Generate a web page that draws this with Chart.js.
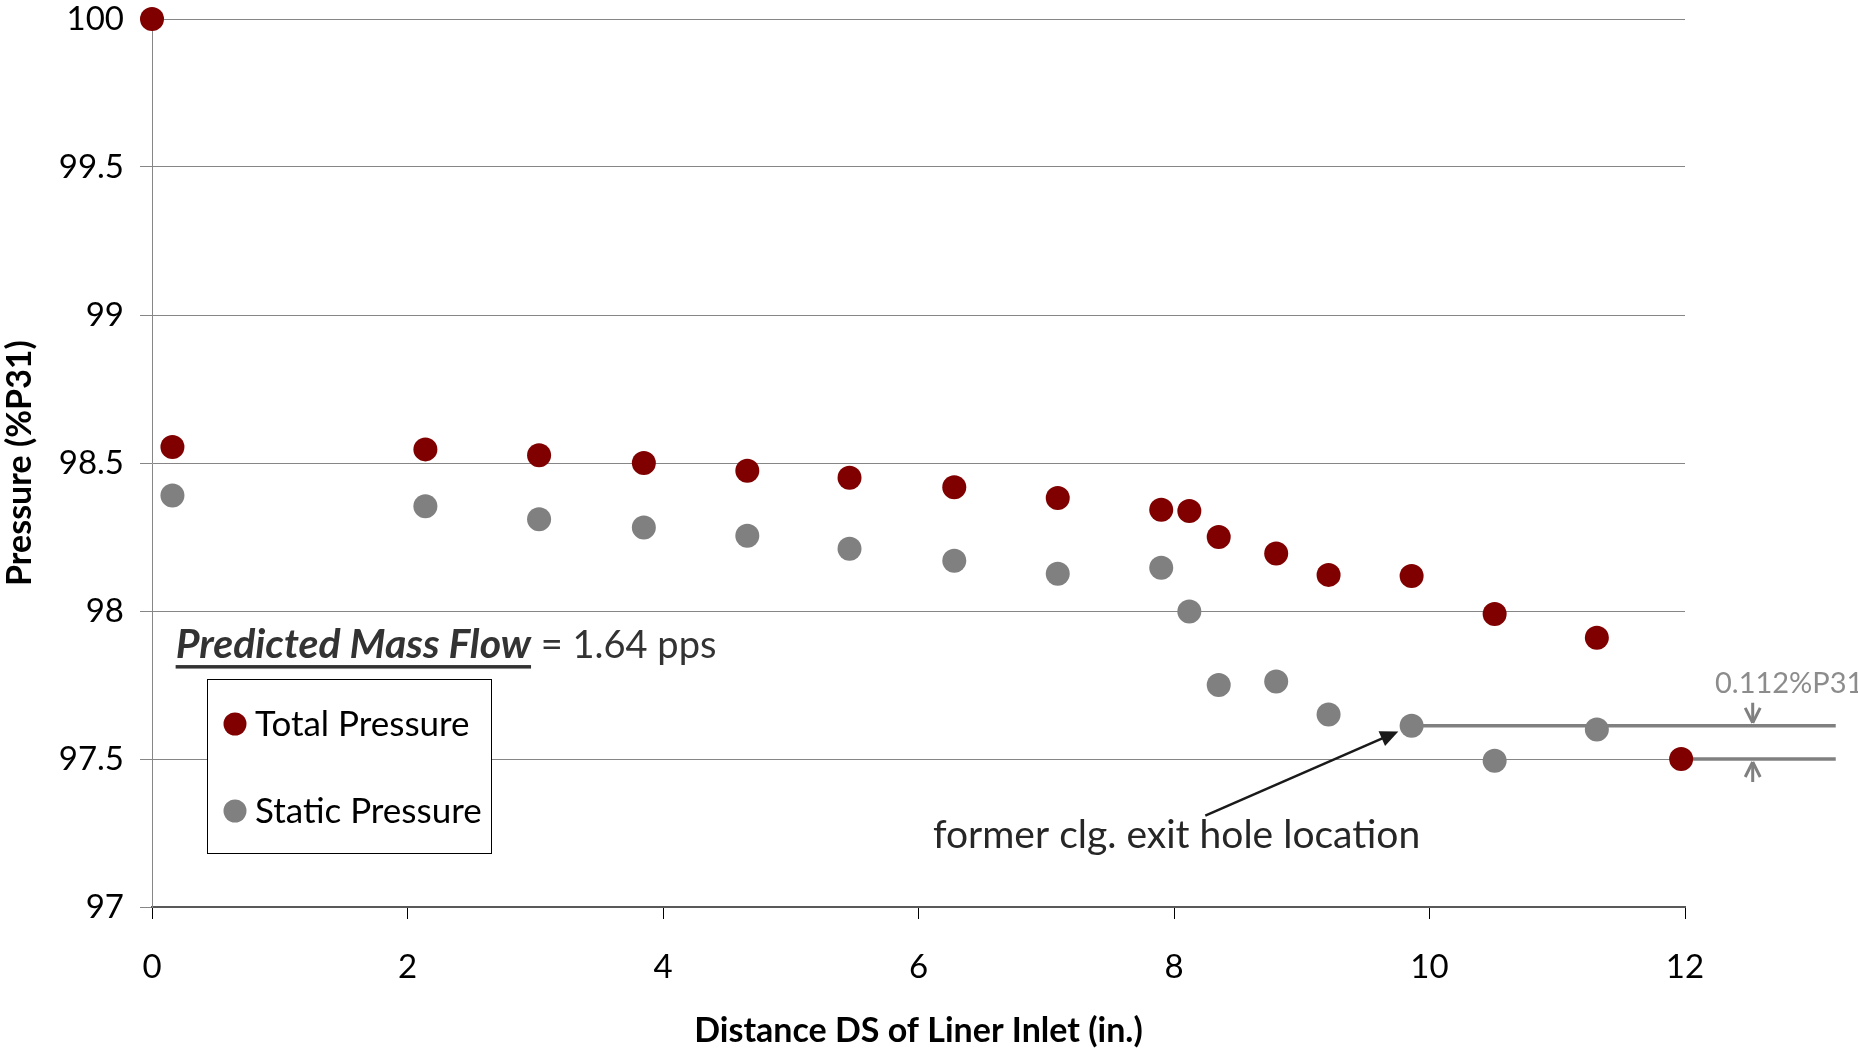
<!DOCTYPE html>
<html>
<head>
<meta charset="utf-8">
<script src="https://cdn.jsdelivr.net/npm/chart.js@4.4.1/dist/chart.umd.min.js"></script>
<style>
  html, body { margin: 0; padding: 0; background: #fff; }
  #myChart { display: block; }
</style>
</head>
<body>
<canvas id="myChart" width="1858" height="1051"></canvas>
<script>
// distance downstream of liner inlet (in.)
const totalX = [0, 0.16, 2.14, 3.03, 3.85, 4.66, 5.46, 6.28, 7.09, 7.90, 8.12, 8.35, 8.80, 9.21, 9.86, 10.51, 11.31, 11.97];
const totalP = [100, 98.554, 98.546, 98.526, 98.50, 98.474, 98.45, 98.418, 98.382, 98.342, 98.338, 98.25, 98.194, 98.122, 98.118, 97.99, 97.91, 97.50];

const staticX = [0.16, 2.14, 3.03, 3.85, 4.66, 5.46, 6.28, 7.09, 7.90, 8.12, 8.35, 8.80, 9.21, 9.86, 10.51, 11.31];
const staticP = [98.39, 98.354, 98.31, 98.282, 98.254, 98.21, 98.17, 98.126, 98.146, 97.998, 97.75, 97.762, 97.65, 97.612, 97.494, 97.60];

const seriesNames = ["Total Pressure", "Static Pressure"];
const seriesColors = ["#800000", "#808080"];

const xTitle = "Distance DS of Liner Inlet (in.)";
const yTitle = "Pressure (%P31)";

// annotation anchors, in data units
const gapUpper = { x: 9.86, y: 97.612 };
const gapLower = { x: 11.97, y: 97.50 };
const gapEndX = 13.18;
const gapArrowX = 12.53;
const gapLabel = "0.112%P31";
const holeArrow = { x1: 8.245, y1: 97.309, x2: 9.756, y2: 97.593 };
const holeLabel = { x: 8.02, y: 97.241, text: "former clg. exit hole location" };
const flowLabel = { x: 0.185, y: 97.841, bold: "Predicted Mass Flow", rest: " = 1.64 pps" };

const FONT = "Lato, 'Open Sans', sans-serif";

function toPoints(xs, ys) {
    return xs.map((x, i) => ({ x: x, y: ys[i] }));
}

function arrowHead(ctx, x, y, angle, size, spread, filled) {
    ctx.save();
    ctx.translate(x, y);
    ctx.rotate(angle);
    ctx.beginPath();
    ctx.moveTo(0, 0);
    ctx.lineTo(-size, -size * spread);
    if (filled) {
        ctx.lineTo(-size, size * spread);
        ctx.closePath();
        ctx.fill();
    } else {
        ctx.moveTo(0, 0);
        ctx.lineTo(-size, size * spread);
        ctx.stroke();
    }
    ctx.restore();
}

const overlay = {
    id: 'overlay',
    beforeDatasetsDraw(chart) {
        const ctx = chart.ctx;
        const xs = chart.scales.x, ys = chart.scales.y;
        ctx.save();
        ctx.strokeStyle = "#808080";
        ctx.lineWidth = 3.5;
        [gapUpper, gapLower].forEach(p => {
            ctx.beginPath();
            ctx.moveTo(xs.getPixelForValue(p.x), ys.getPixelForValue(p.y));
            ctx.lineTo(xs.getPixelForValue(gapEndX), ys.getPixelForValue(p.y));
            ctx.stroke();
        });
        ctx.restore();
    },
    afterDatasetsDraw(chart) {
        const ctx = chart.ctx;
        const xs = chart.scales.x, ys = chart.scales.y;
        const area = chart.chartArea;
        ctx.save();

        // gap arrows + label
        const ax = xs.getPixelForValue(gapArrowX);
        const yUp = ys.getPixelForValue(gapUpper.y) - 3;
        const yLo = ys.getPixelForValue(gapLower.y) + 3;
        ctx.strokeStyle = "#808080";
        ctx.lineWidth = 3;
        ctx.beginPath();
        ctx.moveTo(ax, yUp - 20); ctx.lineTo(ax, yUp);
        ctx.moveTo(ax, yLo + 20); ctx.lineTo(ax, yLo);
        ctx.stroke();
        arrowHead(ctx, ax, yUp, Math.PI / 2, 15, 0.5, false);
        arrowHead(ctx, ax, yLo, -Math.PI / 2, 15, 0.5, false);
        ctx.fillStyle = "#8c8c8c";
        ctx.font = "29px " + FONT;
        ctx.textAlign = "left";
        ctx.textBaseline = "alphabetic";
        ctx.fillText(gapLabel, 1715, yUp - 30);

        // exit hole arrow
        const x1 = xs.getPixelForValue(holeArrow.x1), y1 = ys.getPixelForValue(holeArrow.y1);
        const x2 = xs.getPixelForValue(holeArrow.x2), y2 = ys.getPixelForValue(holeArrow.y2);
        const ang = Math.atan2(y2 - y1, x2 - x1);
        ctx.strokeStyle = "#1a1a1a";
        ctx.fillStyle = "#1a1a1a";
        ctx.lineWidth = 2.5;
        ctx.beginPath();
        ctx.moveTo(x1, y1); ctx.lineTo(x2 - 10 * Math.cos(ang), y2 - 10 * Math.sin(ang));
        ctx.stroke();
        arrowHead(ctx, x2, y2, ang, 18, 0.45, true);

        ctx.fillStyle = "#262626";
        ctx.font = "39px " + FONT;
        ctx.textAlign = "center";
        ctx.textBaseline = "middle";
        ctx.fillText(holeLabel.text, xs.getPixelForValue(holeLabel.x), ys.getPixelForValue(holeLabel.y));

        // mass flow label
        const fx = xs.getPixelForValue(flowLabel.x), fy = ys.getPixelForValue(flowLabel.y);
        ctx.textAlign = "left";
        ctx.textBaseline = "alphabetic";
        ctx.fillStyle = "#333333";
        ctx.font = "italic bold 41px " + FONT;
        ctx.fillText(flowLabel.bold, fx, fy);
        const bw = ctx.measureText(flowLabel.bold).width;
        ctx.fillRect(fx, fy + 7, bw, 3.5);
        ctx.font = "38px " + FONT;
        ctx.fillText(flowLabel.rest, fx + bw, fy);

        // legend box
        const lx = area.left + 55, ly = 679, lw = 284, lh = 174;
        ctx.fillStyle = "#ffffff";
        ctx.fillRect(lx, ly, lw, lh);
        ctx.strokeStyle = "#000000";
        ctx.lineWidth = 1;
        ctx.strokeRect(lx + 0.5, ly + 0.5, lw, lh);
        ctx.font = "35px " + FONT;
        ctx.textBaseline = "middle";
        seriesNames.forEach((name, i) => {
            const cy = ly + 45 + i * 87;
            ctx.fillStyle = seriesColors[i];
            ctx.beginPath();
            ctx.arc(lx + 28, cy, 11.5, 0, Math.PI * 2);
            ctx.fill();
            ctx.fillStyle = "#000000";
            ctx.fillText(name, lx + 48, cy + 1);
        });
        ctx.restore();
    }
};

const myChart = new Chart("myChart", {
    type: "scatter",
    data: {
        datasets: [{
            label: seriesNames[1],
            data: toPoints(staticX, staticP),
            backgroundColor: seriesColors[1],
            borderWidth: 0,
            pointRadius: 12,
            clip: false
        }, {
            label: seriesNames[0],
            data: toPoints(totalX, totalP),
            backgroundColor: seriesColors[0],
            borderWidth: 0,
            pointRadius: 12,
            clip: false
        }]
    },
    options: {
        responsive: false,
        animation: false,
        layout: { autoPadding: false, padding: { top: 0, right: 173, left: 0, bottom: 0 } },
        plugins: { legend: { display: false }, tooltip: { enabled: false } },
        scales: {
            x: {
                type: "linear",
                min: 0,
                max: 12,
                afterFit(s) { s.height = 144; },
                ticks: { stepSize: 2, color: "#000", padding: 29, font: { family: FONT, size: 33 }, maxRotation: 0 },
                grid: { drawOnChartArea: false, tickLength: 12, color: "#000" },
                border: { color: "#595959", width: 2 },
                title: {
                    display: true, text: xTitle, color: "#000",
                    font: { family: FONT, size: 34, weight: "bold" },
                    padding: { top: 0, bottom: 0 }
                }
            },
            y: {
                min: 97,
                max: 100,
                afterFit(s) { s.width = 152; s.paddingTop = 19; s.paddingBottom = 0; },
                ticks: {
                    stepSize: 0.5, color: "#000", padding: 16, font: { family: FONT, size: 33 },
                    callback: v => String(Number(v.toFixed(1)))
                },
                grid: { color: "#868686", tickLength: 12 },
                border: { color: "#868686", width: 1 },
                title: {
                    display: true, text: yTitle, color: "#000",
                    font: { family: FONT, size: 34, weight: "bold" },
                    padding: { top: 0, bottom: 0 }
                }
            }
        }
    },
    plugins: [overlay]
});
</script>
</body>
</html>
